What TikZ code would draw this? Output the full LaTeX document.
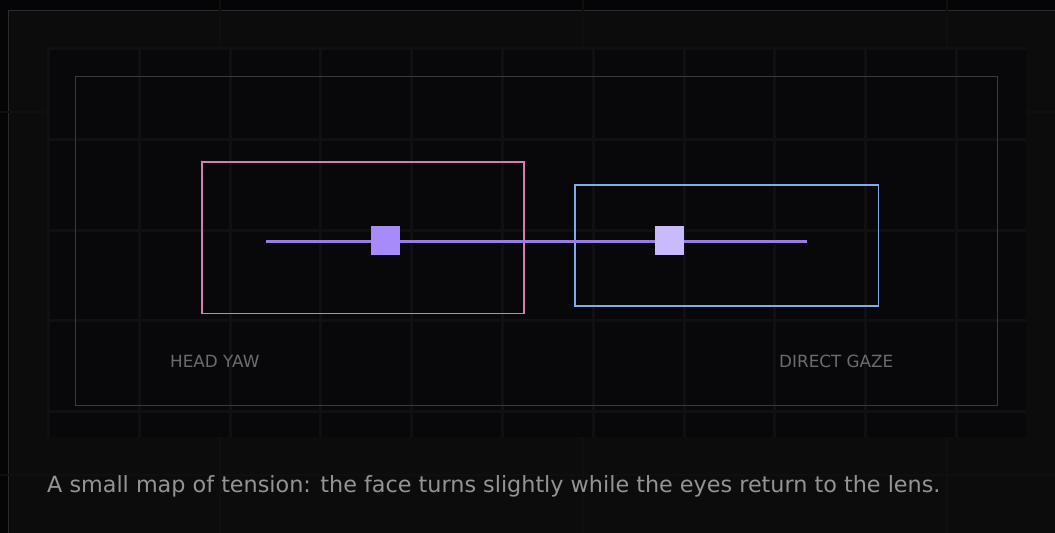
\documentclass[tikz,border=0pt]{standalone}
\usepackage{fontspec}
\setmainfont{DejaVu Sans}
\begin{document}
\begin{tikzpicture}[x=1bp,y=-1bp,
  framebox/.style={draw, line width=#1, inner sep=0pt, outer sep=0pt},
  marker/.style={rectangle, inner sep=0pt, outer sep=0pt, minimum width=29bp, minimum height=29bp},
  caplabel/.style={text=labelgray, font=\fontsize{16.8bp}{19bp}\selectfont, inner sep=0pt, anchor=base west},
  gridline/.style={draw=gridgray, line width=3bp}
]
\definecolor{pagebg}{RGB}{5,5,8}
\definecolor{cardbg}{RGB}{12,12,12}
\definecolor{cardedge}{RGB}{44,44,44}
\definecolor{pagegrid}{RGB}{15,15,15}
\definecolor{panelbg}{RGB}{8,8,10}
\definecolor{gridgray}{RGB}{16,16,19}
\definecolor{framegray}{RGB}{58,58,60}
\definecolor{labelgray}{RGB}{108,108,112}
\definecolor{captiongray}{RGB}{148,148,148}
\definecolor{yawpink}{RGB}{208,128,174}
\definecolor{gazeblue}{RGB}{134,168,240}
\definecolor{axisviolet}{RGB}{152,126,228}
\definecolor{markviolet}{RGB}{167,139,250}
\definecolor{marklilac}{RGB}{201,185,253}

% page and card
\fill[pagebg] (0,0) rectangle (1055,533);
\useasboundingbox (0,0) rectangle (1055,533);
\fill[cardbg] (8.5,10.5) rectangle (1060,540);
\draw[cardedge, line width=1.2bp] (8.5,540) -- (8.5,10.5) -- (1060,10.5);

% faint page grid
\foreach \gx in {220,583,947} \draw[pagegrid, line width=2.5bp] (\gx,0) -- (\gx,533);
\foreach \gy in {112,475} \draw[pagegrid, line width=2.5bp] (0,\gy) -- (1055,\gy);

% panel with its grid
\fill[panelbg] (47,48) rectangle (1026,437);
\begin{scope}
  \clip (47,48) rectangle (1026,437);
  \foreach \k in {0,...,10} \draw[gridline] ({48.5+90.8*\k},48) -- ({48.5+90.8*\k},437);
  \foreach \k in {0,...,4} \draw[gridline] (47,{48.3+90.9*\k}) -- (1026,{48.3+90.9*\k});
\end{scope}

% outer frame
\node[framebox=1bp, draw=framegray, minimum width=922bp, minimum height=329.2bp] (frame) at (536.5,241.1) {};

% regions
\node[framebox=1.7bp, draw=yawpink, minimum width=322bp, minimum height=151.3bp] (yaw) at (362.7,237.7) {};
\node[framebox=1.7bp, draw=gazeblue, minimum width=303.3bp, minimum height=120.7bp] (gaze) at (726.7,245.3) {};

% axis and markers
\coordinate (axisL) at (266,241.5);
\coordinate (axisR) at (807,241.5);
\draw[axisviolet, line width=2.6bp] (axisL) -- (axisR);
\node[marker, fill=markviolet] (headmark) at (385.5,240.5) {};
\node[marker, fill=marklilac] (gazemark) at (669.5,240.5) {};

% labels
\node[caplabel] (yawlabel) at (170,367.5) {HEAD YAW};
\node[caplabel] (gazelabel) at (779,367.5) {DIRECT GAZE};
\node[text=captiongray, font=\fontsize{22.3bp}{26bp}\selectfont, inner sep=0pt, anchor=base west] (caption) at (47,492.5)
  {A small map of tension: the face turns slightly while the eyes return to the lens.};
\end{tikzpicture}
\end{document}
